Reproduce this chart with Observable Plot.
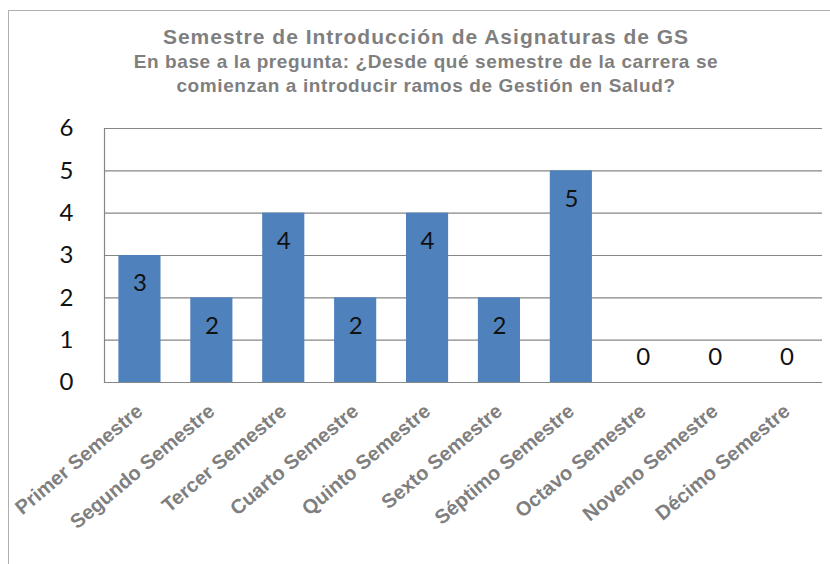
<!DOCTYPE html>
<html>
<head>
<meta charset="utf-8">
<script src="https://cdn.jsdelivr.net/npm/d3@7"></script>
<script src="https://cdn.jsdelivr.net/npm/@observablehq/plot@0.6"></script>
<style>
  body { margin: 0; background: #fff; }
  #wrap { position: relative; width: 830px; height: 564px; overflow: hidden; background: #fff; }
  #border { position: absolute; left: 8px; top: 10px; width: 840px; height: 600px; border-left: 1px solid #b0b0b0; border-top: 1px solid #b0b0b0; }
  .t { position: absolute; left: 0; width: 852px; text-align: center; color: #7f7f7f; font-family: "Liberation Sans", Arial, sans-serif; font-weight: bold; white-space: nowrap; }
  #title { top: 25px; font-size: 21px; letter-spacing: 1px; }
  #sub1 { top: 51px; font-size: 19px; letter-spacing: 0.6px; }
  #sub2 { top: 75px; font-size: 19px; letter-spacing: 0.6px; }
  #chart { position: absolute; left: 0; top: 0; }
</style>
</head>
<body>
<div id="wrap">
  <div id="border"></div>
  <div class="t" id="title">Semestre de Introducción de Asignaturas de GS</div>
  <div class="t" id="sub1">En base a la pregunta: ¿Desde qué semestre de la carrera se</div>
  <div class="t" id="sub2">comienzan a introducir ramos de Gestión en Salud?</div>
  <div id="chart"></div>
</div>
<script>
const categories = ["Primer Semestre", "Segundo Semestre", "Tercer Semestre", "Cuarto Semestre", "Quinto Semestre", "Sexto Semestre", "Séptimo Semestre", "Octavo Semestre", "Noveno Semestre", "Décimo Semestre"];
const values = [3, 2, 4, 2, 4, 2, 5, 0, 0, 0];
const yTicks = [0, 1, 2, 3, 4, 5, 6];

const data = categories.map((c, i) => ({semestre: c, n: values[i]}));

const chart = Plot.plot({
  width: 830,
  height: 564,
  marginLeft: 104,
  marginRight: 8,
  marginTop: 128,
  marginBottom: 182,
  style: {background: "transparent", overflow: "visible"},
  x: {domain: categories, paddingInner: 0.414, paddingOuter: 0.2, round: false, label: null},
  y: {domain: [0, 6], label: null},
  marks: [
    Plot.ruleY(yTicks, {stroke: "#868686", strokeWidth: 1.2, strokeOpacity: 1}),
    Plot.frame({anchor: "left", stroke: "#868686", strokeWidth: 1.2}),
    Plot.barY(data, {x: "semestre", y: "n", fill: "#4f81bd"}),
    Plot.text(data.filter(d => d.n > 0), {x: "semestre", y: "n", text: d => String(d.n), dy: 28, fontSize: 24, fill: "#111", fontFamily: "Lato, sans-serif"}),
    Plot.text(data.filter(d => d.n === 0), {x: "semestre", y: "n", text: d => String(d.n), dy: -25, fontSize: 24, fill: "#111", fontFamily: "Lato, sans-serif"}),
    Plot.axisY({ticks: yTicks, tickFormat: d => String(d), tickSize: 0, tickPadding: 31, fontSize: 24, fill: "#111", fontFamily: "Lato, sans-serif", label: null}),
    Plot.axisX({tickSize: 0, tickRotate: -40, tickPadding: 26, fontSize: 20, fontWeight: "bold", fill: "#7f7f7f", fontFamily: "Liberation Sans, Arial, sans-serif", label: null})
  ]
});
document.getElementById("chart").appendChild(chart);
</script>
</body>
</html>
